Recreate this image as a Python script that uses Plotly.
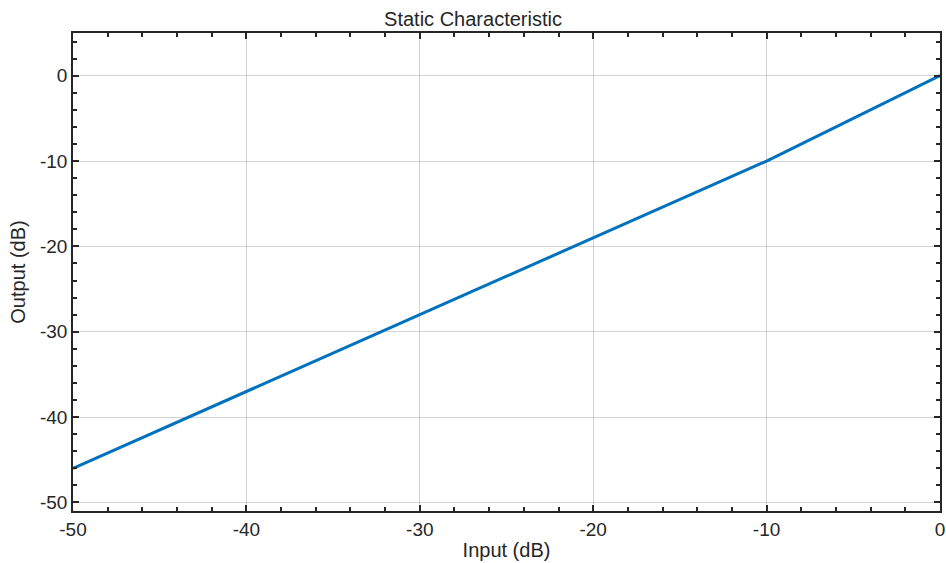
import plotly.graph_objects as go

# Static gain curve: input level (dB) vs output level (dB)
input_db = [-50, -10, 0]
output_db = [-46, -10, 0]

x_range = [-50, 0]
y_range = [-51, 5]
x_ticks = [-50, -40, -30, -20, -10, 0]
y_ticks = [-50, -40, -30, -20, -10, 0]
x_minor = [v for v in range(-50, 1, 2) if v % 10]
y_minor = [v for v in range(-50, 5, 2) if v % 10]

FONT = "Liberation Sans, Arial, sans-serif"
INK = "#262626"


def tick_style(major, minor):
    return dict(
        tickmode="array", tickvals=major, ticktext=[str(v) for v in major],
        ticks="inside", ticklen=6, tickwidth=1.5, tickcolor=INK,
        minor=dict(tickmode="array", tickvals=minor, ticks="inside", ticklen=4,
                   tickwidth=1.5, tickcolor=INK, showgrid=False),
        zeroline=False, automargin=False,
    )


fig = go.Figure()
fig.add_trace(go.Scatter(
    x=input_db, y=output_db, mode="lines",
    line=dict(color="#0072BD", width=3),
    showlegend=False, hoverinfo="x+y",
))
# invisible trace anchoring the top/right tick axes
fig.add_trace(go.Scatter(
    x=input_db, y=output_db, mode="lines", xaxis="x2", yaxis="y2",
    line=dict(width=0), opacity=0, showlegend=False, hoverinfo="skip",
))

fig.update_layout(
    width=946, height=563,
    margin=dict(l=73, r=6, t=33, b=52),
    paper_bgcolor="white", plot_bgcolor="white",
    title=dict(text="Static Characteristic", x=0.5, xanchor="center", y=0.967, yanchor="middle",
               font=dict(family=FONT, size=20, color=INK)),
    xaxis=dict(
        range=x_range,
        showline=True, linecolor=INK, linewidth=1.5, mirror=True,
        showgrid=True, gridcolor="rgba(0,0,0,0.17)", gridwidth=1,
        tickfont=dict(family=FONT, size=19, color=INK),
        title=dict(text="Input (dB)", standoff=4, font=dict(family=FONT, size=20, color=INK)),
        **tick_style(x_ticks, x_minor),
    ),
    yaxis=dict(
        range=y_range,
        showline=True, linecolor=INK, linewidth=1.5, mirror=True,
        showgrid=True, gridcolor="rgba(0,0,0,0.17)", gridwidth=1,
        tickfont=dict(family=FONT, size=19, color=INK),
        title=dict(text="Output (dB)", standoff=9, font=dict(family=FONT, size=20, color=INK)),
        **tick_style(y_ticks, y_minor),
    ),
    xaxis2=dict(
        overlaying="x", side="top", matches="x", range=x_range,
        showticklabels=False, showgrid=False, showline=False, **tick_style(x_ticks, x_minor),
    ),
    yaxis2=dict(
        overlaying="y", side="right", matches="y", range=y_range,
        showticklabels=False, showgrid=False, showline=False, **tick_style(y_ticks, y_minor),
    ),
)

fig.write_html("out.html")
